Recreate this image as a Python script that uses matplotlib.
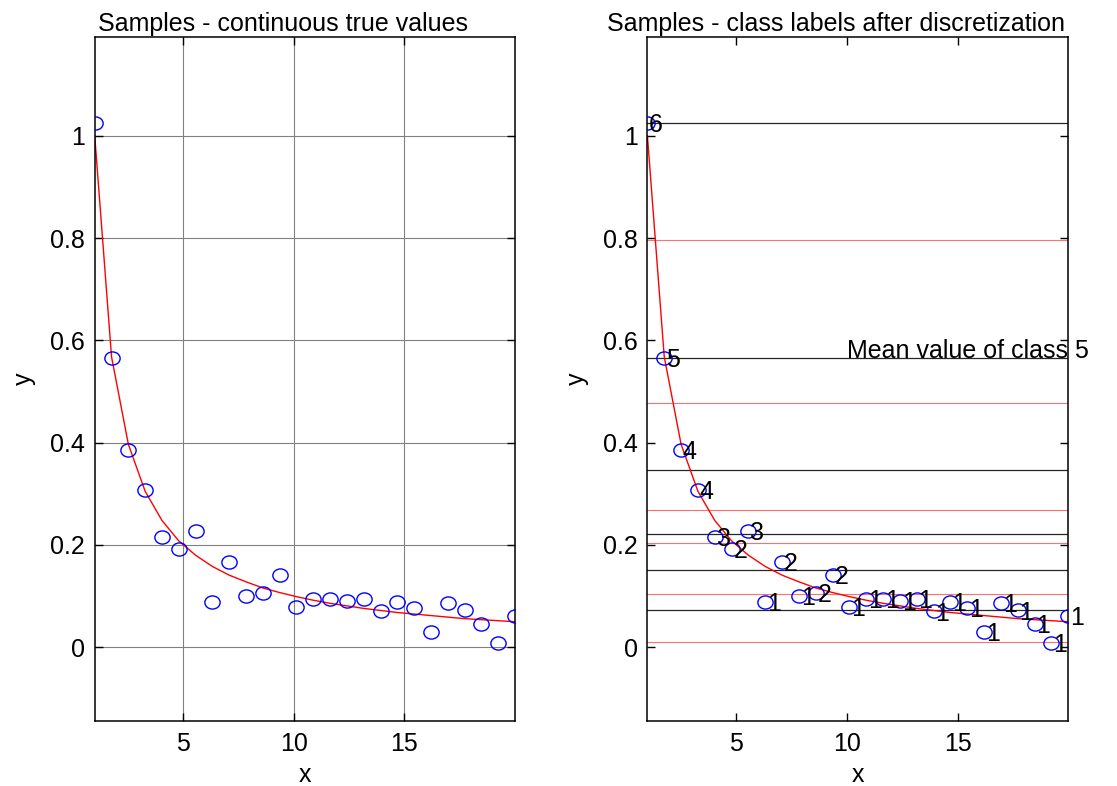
import numpy as np
import matplotlib
matplotlib.use('Agg')
import matplotlib.pyplot as plt
from matplotlib.path import Path

plt.rcParams['font.family'] = ['Liberation Sans', 'DejaVu Sans']
plt.rcParams['font.size'] = 18

# sample positions, noisy samples and the underlying 1/x values at each sample
x = [1.00, 1.76, 2.52, 3.28, 4.04, 4.80, 5.56, 6.32, 7.08, 7.84, 8.60, 9.36, 10.12,
     10.88, 11.64, 12.40, 13.16, 13.92, 14.68, 15.44, 16.20, 16.96, 17.72, 18.48,
     19.24, 20.00]
y = [1.025, 0.566, 0.386, 0.307, 0.216, 0.192, 0.228, 0.088, 0.167, 0.100, 0.106,
     0.142, 0.079, 0.095, 0.095, 0.091, 0.095, 0.070, 0.088, 0.076, 0.030, 0.086,
     0.072, 0.045, 0.008, 0.061]
y_true = [1.000, 0.568, 0.397, 0.305, 0.248, 0.208, 0.180, 0.158, 0.141, 0.128,
          0.116, 0.107, 0.099, 0.092, 0.086, 0.081, 0.076, 0.072, 0.068, 0.065,
          0.062, 0.059, 0.056, 0.054, 0.052, 0.050]

# class of each sample after discretization, and the class boundaries
labels = [6, 5, 4, 4, 3, 2, 3, 1, 2, 1, 2, 2, 1, 1, 1, 1, 1, 1, 1, 1, 1, 1, 1, 1, 1, 1]
edges = [0.0098, 0.1036, 0.2033, 0.2678, 0.477, 0.7957]

xticks = [5, 10, 15]
yticks = [0, 0.2, 0.4, 0.6, 0.8, 1]

# slightly flattened circle marker
circ = Path.unit_circle()
ell = Path(circ.vertices * np.array([1.0, 0.86]), circ.codes)

fig = plt.figure(figsize=(11.17, 7.86), dpi=100)
ax1 = fig.add_axes([0.0848, 0.0831, 0.3763, 0.8698])
ax2 = fig.add_axes([0.5796, 0.0831, 0.3768, 0.8698])

for ax in (ax1, ax2):
    ax.set_xlim(1, 20)
    ax.set_ylim(-0.1435, 1.1932)
    ax.set_xticks(xticks)
    ax.set_yticks(yticks)
    ax.set_yticklabels(['0', '0.2', '0.4', '0.6', '0.8', '1'])
    ax.tick_params(direction='in', length=5.5, width=1, top=True, right=True,
                   labelsize=18, color='k')
    ax.tick_params(axis='y', pad=7)
    ax.tick_params(axis='x', pad=8)
    for s in ax.spines.values():
        s.set_linewidth(1.1)
    ax.set_xlabel('x', fontsize=18, labelpad=5)
    ax.set_ylabel('y', fontsize=18, labelpad=10)

# left: samples against the true curve
ax1.grid(True, color='0.5', linewidth=0.8)
ax1.set_axisbelow(True)
ax1.plot(x, y_true, color='red', linewidth=1.0, zorder=2)
ax1.plot(x, y, linestyle='none', marker=ell, markersize=11, markerfacecolor='none',
         markeredgecolor='blue', markeredgewidth=1.0, zorder=3)
ax1.set_title('Samples - continuous true values', fontsize=18, x=0.447, pad=4)

# right: class means (black), class boundaries (red) and labels
ya = np.array(y)
la = np.array(labels)
means = {c: ya[la == c].mean() for c in sorted(set(labels))}
for c, m in means.items():
    ax2.plot([x[0], x[-1]], [m, m], color='0.15', linewidth=0.9, zorder=1)
for e in edges:
    ax2.plot([x[0], x[-1]], [e, e], color='#ff7070', linewidth=0.8, zorder=1)
ax2.plot(x, y_true, color='red', linewidth=1.0, zorder=2)
ax2.plot(x, y, linestyle='none', marker=ell, markersize=11, markerfacecolor='none',
         markeredgecolor='blue', markeredgewidth=1.0, zorder=3)
for xi, yi, c in zip(x, y, labels):
    ax2.text(xi + 0.08, yi - 0.004, str(c), ha='left', va='center', fontsize=18,
             zorder=4, clip_on=False)
ax2.text(10, means[5], 'Mean value of class 5', ha='left', va='baseline',
         fontsize=18, clip_on=False)
ax2.set_title('Samples - class labels after discretization', fontsize=18,
              x=0.449, pad=4)

fig.savefig('out.png', dpi=100)
